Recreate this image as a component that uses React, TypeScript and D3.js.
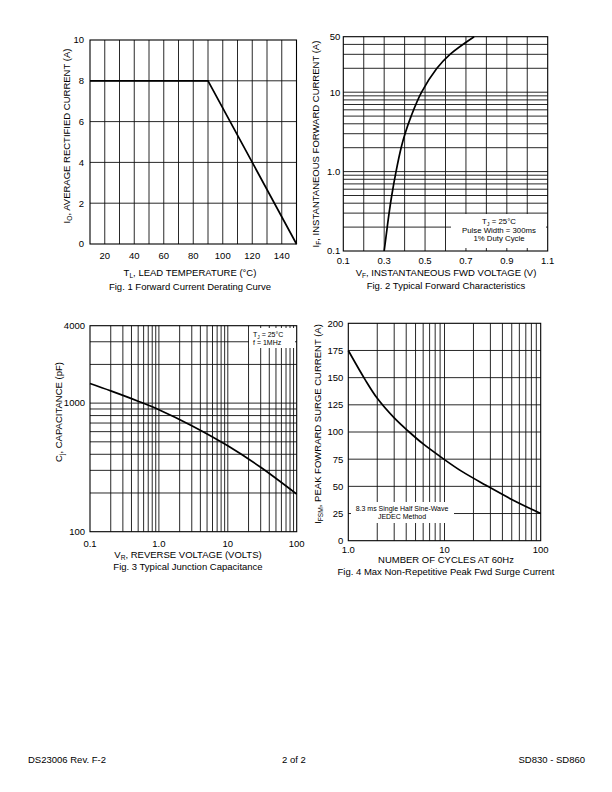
import React from "react";
import * as d3 from "d3";

const FONT = "'Liberation Sans', Arial, Helvetica, sans-serif";

// Fig. 1 - Forward Current Derating Curve
const fig1Temp = [10, 90, 150];
const fig1Current = [8, 8, 0];
const fig1XTicks = [20, 40, 60, 80, 100, 120, 140];
const fig1YTicks = [0, 2, 4, 6, 8, 10];
const fig1XGrid = [20, 30, 40, 50, 60, 70, 80, 90, 100, 110, 120, 130, 140];
const fig1YGrid = [2, 4, 6, 8];

// Fig. 2 - Typical Forward Characteristics
const fig2Voltage = [0.3, 0.315, 0.324, 0.337, 0.358, 0.383, 0.402, 0.432, 0.483, 0.558, 0.622, 0.74];
const fig2Current = [0.1, 0.2, 0.3, 0.5, 1, 2, 3, 5, 10, 20, 30, 50];
const fig2XTicks = [0.1, 0.3, 0.5, 0.7, 0.9, 1.1];
const fig2YTicks = [0.1, 1, 10, 50];
const fig2YTickLabels = ["0.1", "1.0", "10", "50"];
const fig2XGrid = [0.2, 0.3, 0.4, 0.5, 0.6, 0.7, 0.8, 0.9, 1.0];
const fig2YGrid = [0.2, 0.3, 0.4, 0.5, 0.6, 0.7, 0.8, 0.9, 1, 2, 3, 4, 5, 6, 7, 8, 9, 10, 20, 30, 40];

// Fig. 3 - Typical Junction Capacitance
const fig3Voltage = [0.1, 0.2, 0.5, 1, 3, 10, 30, 100];
const fig3Cap = [1420, 1245, 1035, 889, 668, 466, 317, 196];
const fig3XTicks = [0.1, 1, 10, 100];
const fig3XTickLabels = ["0.1", "1.0", "10", "100"];
const fig3YTicks = [100, 1000, 4000];
const fig3XGrid = [0.2, 0.3, 0.4, 0.5, 0.6, 0.7, 0.8, 0.9, 1, 2, 3, 4, 5, 6, 7, 8, 9, 10, 20, 30, 40, 50, 60, 70, 80, 90];
const fig3YGrid = [200, 300, 400, 500, 600, 700, 800, 900, 1000, 2000, 3000];

// Fig. 4 - Max Non-Repetitive Peak Fwd Surge Current
const fig4Cycles = [1, 1.5, 2, 3, 4.3, 6, 9.5, 15, 27, 50, 100];
const fig4Current = [175, 148, 131, 113, 100, 89, 76, 64, 51, 38, 25];
const fig4XTicks = [1, 10, 100];
const fig4XTickLabels = ["1.0", "10", "100"];
const fig4YTicks = [0, 25, 50, 75, 100, 125, 150, 175, 200];
const fig4XGrid = [2, 3, 4, 5, 6, 7, 8, 9, 10, 20, 30, 40, 50, 60, 70, 80, 90];
const fig4YGrid = [25, 50, 75, 100, 125, 150, 175];

type Part = { t: string; sub?: boolean };

function Rich({ parts, fs }: { parts: Part[]; fs: number }) {
  let shifted = false;
  return (
    <>
      {parts.map((p, i) => {
        let dy = 0;
        if (p.sub && !shifted) { dy = fs * 0.25; shifted = true; }
        else if (!p.sub && shifted) { dy = -fs * 0.25; shifted = false; }
        return (
          <tspan key={i} dy={dy} fontSize={p.sub ? fs * 0.7 : fs}>
            {p.t}
          </tspan>
        );
      })}
    </>
  );
}

type PanelProps = {
  box: [number, number, number, number]; // left, top, right, bottom
  xLog?: boolean;
  yLog?: boolean;
  xDomain: [number, number];
  yDomain: [number, number];
  xGrid: number[];
  yGrid: number[];
  xTicks: number[];
  xTickLabels?: string[];
  yTicks: number[];
  yTickLabels?: string[];
  xs: number[];
  ys: number[];
  smooth?: boolean;
  yLabel: Part[];
  yLabelPos: [number, number];
  xLabel: Part[];
  caption: string;
  textX: number;
  xTickY: number;
  xLabelY: number;
  captionY: number;
  yTickGap: number;
  children?: React.ReactNode;
};

function Panel(p: PanelProps) {
  const [l, t, r, b] = p.box;
  const x = (p.xLog ? d3.scaleLog() : d3.scaleLinear()).domain(p.xDomain).range([l, r]);
  const y = (p.yLog ? d3.scaleLog() : d3.scaleLinear()).domain(p.yDomain).range([b, t]);
  const pts = p.xs.map((v, i) => [v, p.ys[i]] as [number, number]);
  const line = d3
    .line<[number, number]>()
    .x((d) => x(d[0]))
    .y((d) => y(d[1]))
    .curve(p.smooth ? d3.curveCatmullRom.alpha(0.5) : d3.curveLinear);
  const fs = 9.5;
  return (
    <g fontFamily={FONT} fill="#000">
      {p.xGrid.map((v) => (
        <line key={"xg" + v} x1={x(v)} x2={x(v)} y1={t} y2={b} stroke="#111" strokeWidth={0.9} />
      ))}
      {p.yGrid.map((v) => (
        <line key={"yg" + v} x1={l} x2={r} y1={y(v)} y2={y(v)} stroke="#111" strokeWidth={0.9} />
      ))}
      {p.children}
      <rect x={l} y={t} width={r - l} height={b - t} fill="none" stroke="#000" strokeWidth={1.1} />
      <path d={line(pts) ?? ""} fill="none" stroke="#000" strokeWidth={1.7} />
      {p.xTicks.map((v, i) => (
        <text key={"xt" + v} x={x(v)} y={p.xTickY} fontSize={fs} textAnchor="middle">
          {p.xTickLabels ? p.xTickLabels[i] : String(v)}
        </text>
      ))}
      {p.yTicks.map((v, i) => (
        <text key={"yt" + v} x={l - p.yTickGap} y={y(v)} dy="0.35em" fontSize={fs} textAnchor="end">
          {p.yTickLabels ? p.yTickLabels[i] : String(v)}
        </text>
      ))}
      <text
        transform={`translate(${p.yLabelPos[0]},${p.yLabelPos[1]}) rotate(-90)`}
        fontSize={fs}
        textAnchor="middle"
      >
        <Rich parts={p.yLabel} fs={fs} />
      </text>
      <text x={p.textX} y={p.xLabelY} fontSize={fs} textAnchor="middle">
        <Rich parts={p.xLabel} fs={fs} />
      </text>
      <text x={p.textX} y={p.captionY} fontSize={fs} textAnchor="middle">
        {p.caption}
      </text>
    </g>
  );
}

export default function App() {
  return (
    <div style={{ position: "absolute", left: 0, top: 0 }}>
      <svg width={612} height={792} viewBox="0 0 612 792" style={{ display: "block", background: "#fff" }}>
        <rect width={612} height={792} fill="#fff" />
        <Panel
          box={[90, 40, 296.5, 244]}
          xDomain={[10, 150]}
          yDomain={[0, 10]}
          xGrid={fig1XGrid}
          yGrid={fig1YGrid}
          xTicks={fig1XTicks}
          yTicks={fig1YTicks}
          xs={fig1Temp}
          ys={fig1Current}
          yLabel={[{ t: "I" }, { t: "O", sub: true }, { t: ", AVERAGE RECTIFIED CURRENT (A)" }]}
          yLabelPos={[70, 136]}
          xLabel={[{ t: "T" }, { t: "L", sub: true }, { t: ", LEAD TEMPERATURE (°C)" }]}
          caption="Fig. 1  Forward Current Derating Curve"
          textX={190}
          xTickY={259}
          xLabelY={275.5}
          captionY={289.5}
          yTickGap={6}
        />
        <Panel
          box={[343.3, 36.7, 547.7, 251]}
          yLog
          xDomain={[0.1, 1.1]}
          yDomain={[0.1, 50]}
          xGrid={fig2XGrid}
          yGrid={fig2YGrid}
          xTicks={fig2XTicks}
          yTicks={fig2YTicks}
          yTickLabels={fig2YTickLabels}
          xs={fig2Voltage}
          ys={fig2Current}
          smooth
          yLabel={[{ t: "I" }, { t: "F", sub: true }, { t: ", INSTANTANEOUS FORWARD CURRENT (A)" }]}
          yLabelPos={[319, 144]}
          xLabel={[{ t: "V" }, { t: "F", sub: true }, { t: ", INSTANTANEOUS FWD VOLTAGE (V)" }]}
          caption="Fig. 2  Typical Forward Characteristics"
          textX={446}
          xTickY={264}
          xLabelY={275.5}
          captionY={289}
          yTickGap={3}
        >
          <rect x={451} y={214} width={95} height={34} fill="#fff" />
          <g fontFamily={FONT} fontSize={7.8} textAnchor="middle">
            <text x={499} y={224}>
              <Rich parts={[{ t: "T" }, { t: "J", sub: true }, { t: " = 25°C" }]} fs={7.8} />
            </text>
            <text x={499} y={232.5}>Pulse Width = 300ms</text>
            <text x={499} y={240.5}>1% Duty Cycle</text>
          </g>
        </Panel>
        <Panel
          box={[90, 325.7, 296.7, 531.7]}
          xLog
          yLog
          xDomain={[0.1, 100]}
          yDomain={[100, 4000]}
          xGrid={fig3XGrid}
          yGrid={fig3YGrid}
          xTicks={fig3XTicks}
          xTickLabels={fig3XTickLabels}
          yTicks={fig3YTicks}
          xs={fig3Voltage}
          ys={fig3Cap}
          smooth
          yLabel={[{ t: "C" }, { t: "j", sub: true }, { t: ", CAPACITANCE (pF)" }]}
          yLabelPos={[62, 412]}
          xLabel={[{ t: "V" }, { t: "R", sub: true }, { t: ", REVERSE VOLTAGE (VOLTS)" }]}
          caption="Fig. 3  Typical Junction Capacitance"
          textX={188}
          xTickY={546.5}
          xLabelY={558}
          captionY={570}
          yTickGap={5}
        >
          <rect x={249} y={328} width={46} height={20} fill="#fff" />
          <g fontFamily={FONT} fontSize={7}>
            <text x={253} y={337}>
              <Rich parts={[{ t: "T" }, { t: "J", sub: true }, { t: " = 25°C" }]} fs={7} />
            </text>
            <text x={253} y={345}>f = 1MHz</text>
          </g>
        </Panel>
        <Panel
          box={[348.3, 323.3, 540.7, 540.7]}
          xLog
          xDomain={[1, 100]}
          yDomain={[0, 200]}
          xGrid={fig4XGrid}
          yGrid={fig4YGrid}
          xTicks={fig4XTicks}
          xTickLabels={fig4XTickLabels}
          yTicks={fig4YTicks}
          xs={fig4Cycles}
          ys={fig4Current}
          smooth
          yLabel={[{ t: "I" }, { t: "FSM", sub: true }, { t: ", PEAK FOWRARD SURGE CURRENT (A)" }]}
          yLabelPos={[321, 424]}
          xLabel={[{ t: "NUMBER OF CYCLES AT 60Hz" }]}
          caption="Fig. 4  Max Non-Repetitive Peak Fwd Surge Current"
          textX={446}
          xTickY={553}
          xLabelY={562.5}
          captionY={574.5}
          yTickGap={5}
        >
          <rect x={351} y={502} width={103} height={21} fill="#fff" />
          <g fontFamily={FONT} fontSize={7} textAnchor="middle">
            <text x={402} y={510.5}>8.3 ms Single Half Sine-Wave</text>
            <text x={402} y={519}>JEDEC Method</text>
          </g>
        </Panel>
        <g fontFamily={FONT} fontSize={9.5} fill="#000">
          <text x={28} y={763}>DS23006 Rev. F-2</text>
          <text x={294} y={763} textAnchor="middle">2 of 2</text>
          <text x={585} y={763} textAnchor="end">SD830 - SD860</text>
        </g>
      </svg>
    </div>
  );
}
